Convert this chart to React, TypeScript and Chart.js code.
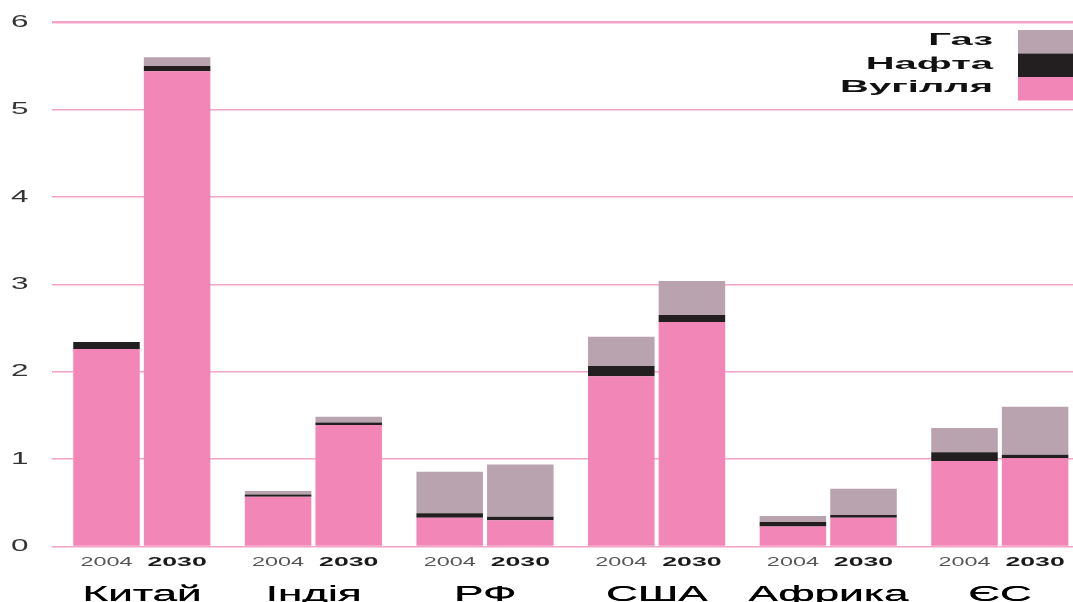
import React, { useEffect, useRef } from "react";
import { Chart, registerables } from "chart.js";

Chart.register(...registerables);

const regions = ["Китай", "Індія", "РФ", "США", "Африка", "ЄС"];
const years = ["2004", "2030"];
const seriesNames = ["Вугілля", "Нафта", "Газ"];
const seriesColors = ["#f287b7", "#231f20", "#b9a3af"];

const coal2004 = [2.26, 0.57, 0.33, 1.95, 0.23, 0.98];
const oil2004 = [0.08, 0.025, 0.05, 0.115, 0.05, 0.1];
const gas2004 = [0, 0.04, 0.475, 0.335, 0.07, 0.275];
const coal2030 = [5.44, 1.39, 0.3, 2.57, 0.33, 1.01];
const oil2030 = [0.06, 0.03, 0.04, 0.08, 0.03, 0.04];
const gas2030 = [0.1, 0.065, 0.6, 0.39, 0.3, 0.55];

const yTickLabels = ["0", "1", "2", "3", "4", "5", "6"];

const FONT = "'Liberation Sans', Arial, sans-serif";

function stretchText(
  ctx: CanvasRenderingContext2D,
  text: string,
  x: number,
  y: number,
  sx: number,
  align: CanvasTextAlign,
  baseline: CanvasTextBaseline,
  font: string,
  color: string
) {
  ctx.save();
  ctx.translate(x, y);
  ctx.scale(sx, 1);
  ctx.font = font;
  ctx.fillStyle = color;
  ctx.textAlign = align;
  ctx.textBaseline = baseline;
  ctx.fillText(text, 0, 0);
  ctx.restore();
}

const textPlugin = {
  id: "stretchedText",
  afterDraw(chart: any) {
    const ctx: CanvasRenderingContext2D = chart.ctx;
    const area = chart.chartArea;
    const xScale = chart.scales.x;
    const yScale = chart.scales.y;

    // y tick labels
    yScale.ticks.forEach((t: any, i: number) => {
      const y = yScale.getPixelForValue(t.value);
      const label = yTickLabels[i] ?? String(t.value);
      stretchText(ctx, label, 11, y, 1.85, "left", "middle", `17px ${FONT}`, "#333");
    });

    // year labels under each bar, region names under each group
    const coalIdx = [0, 3];
    regions.forEach((_, i) => {
      years.forEach((yr, k) => {
        const el = chart.getDatasetMeta(coalIdx[k]).data[i];
        if (!el) return;
        const bold = k === 1;
        stretchText(
          ctx,
          yr,
          el.x,
          area.bottom + 15.5,
          bold ? 2.05 : 1.8,
          "center",
          "middle",
          `${bold ? "bold " : ""}13px ${FONT}`,
          bold ? "#1a1a1a" : "#555"
        );
      });
      const cx = xScale.getPixelForValue(i);
      stretchText(ctx, regions[i], cx, area.bottom + 54, 2.05, "center", "alphabetic", `500 21.5px ${FONT}`, "#000");
      stretchText(ctx, regions[i], cx + 0.6, area.bottom + 54, 2.05, "center", "alphabetic", `500 21.5px ${FONT}`, "#000");
    });

    // legend (top right)
    const boxLeft = area.right - 67.6;
    const boxTop = area.top + 7.7;
    const boxH = 23.5;
    const order = [2, 1, 0];
    order.forEach((s, j) => {
      const top = boxTop + j * boxH;
      ctx.save();
      ctx.fillStyle = seriesColors[s];
      ctx.fillRect(boxLeft, top, 90, boxH);
      ctx.restore();
      stretchText(
        ctx,
        seriesNames[s],
        boxLeft - 25,
        top + boxH / 2 - 1,
        2.35,
        "right",
        "middle",
        `bold 17px ${FONT}`,
        "#111"
      );
    });
  },
};

export default function App() {
  const ref = useRef<HTMLCanvasElement | null>(null);

  useEffect(() => {
    if (!ref.current) return;
    const mk = (label: string, data: number[], color: string, stack: string) => ({
      label,
      data,
      backgroundColor: color,
      borderWidth: 0,
      stack,
      barPercentage: 0.942,
      categoryPercentage: 0.823,
    });
    const chart = new Chart(ref.current, {
      type: "bar",
      data: {
        labels: regions,
        datasets: [
          mk(seriesNames[0], coal2004, seriesColors[0], years[0]),
          mk(seriesNames[1], oil2004, seriesColors[1], years[0]),
          mk(seriesNames[2], gas2004, seriesColors[2], years[0]),
          mk(seriesNames[0], coal2030, seriesColors[0], years[1]),
          mk(seriesNames[1], oil2030, seriesColors[1], years[1]),
          mk(seriesNames[2], gas2030, seriesColors[2], years[1]),
        ],
      },
      options: {
        responsive: false,
        animation: false,
        layout: { padding: { left: 52, top: 22.3, right: 14.4, bottom: 55.5 } },
        plugins: {
          legend: { display: false },
          tooltip: { enabled: false },
        },
        scales: {
          x: {
            stacked: true,
            grid: { display: false, drawTicks: false },
            border: { display: false },
            ticks: { display: false },
          },
          y: {
            stacked: true,
            min: 0,
            max: 6,
            z: 1,
            ticks: { display: false, stepSize: 1 },
            border: { display: false },
            grid: {
              color: "rgba(236, 70, 145, 0.5)",
              lineWidth: (c: any) => (c.tick && c.tick.value === 6 ? 2.4 : 1.6),
              drawTicks: true,
              tickLength: 4,
            },
          },
        },
      },
      plugins: [textPlugin],
    });
    return () => chart.destroy();
  }, []);

  return (
    <div
      style={{
        position: "fixed",
        left: 0,
        top: 0,
        width: 1073,
        height: 602,
        overflow: "hidden",
        background: "#fff",
      }}
    >
      <canvas ref={ref} width={1100} height={602} style={{ display: "block" }} />
    </div>
  );
}
